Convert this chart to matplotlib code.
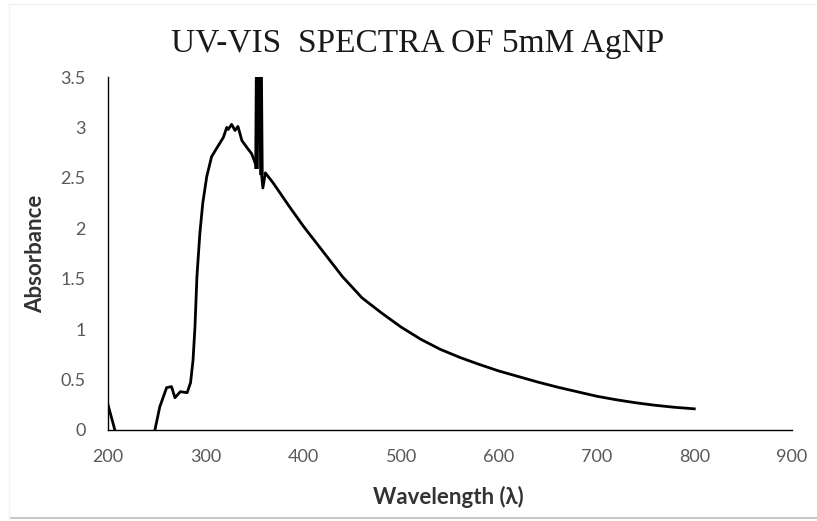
import matplotlib
matplotlib.use("Agg")
import matplotlib.pyplot as plt
from matplotlib.lines import Line2D

wavelength = [200, 207, 215, 230, 242, 248, 253, 260, 265, 268.5, 274, 281, 284.5,
              287, 289, 291, 294, 297, 301, 306, 311, 318, 321.5, 323, 326.5, 330,
              333, 337, 343, 347, 352, 353.6, 355.0, 357, 358.5, 361, 369, 386, 400,
              420, 440, 460, 480, 500, 520, 540, 560, 580, 600, 620, 640, 660, 680,
              700, 720, 740, 760, 780, 800]
absorbance = [0.25, 0.0, -0.3, -0.45, -0.2, 0.0, 0.23, 0.42, 0.43, 0.32, 0.38, 0.37, 0.47,
              0.69, 1.02, 1.52, 1.95, 2.25, 2.51, 2.71, 2.79, 2.90, 3.00, 2.98, 3.03, 2.97,
              3.01, 2.87, 2.79, 2.74, 2.61, 5.0, 5.0, 2.55, 2.40, 2.55, 2.45, 2.21, 2.02,
              1.77, 1.52, 1.31, 1.16, 1.02, 0.90, 0.80, 0.72, 0.65, 0.585, 0.53, 0.475,
              0.425, 0.38, 0.335, 0.30, 0.27, 0.245, 0.225, 0.21]

x_ticks = [200, 300, 400, 500, 600, 700, 800, 900]
y_ticks = [0, 0.5, 1, 1.5, 2, 2.5, 3, 3.5]
y_tick_labels = ["0", "0.5", "1", "1.5", "2", "2.5", "3", "3.5"]

title = "UV-VIS  SPECTRA OF 5mM AgNP"
x_label = "Wavelength (λ)"
y_label = "Absorbance"

W, H = 817, 521
fig = plt.figure(figsize=(W / 100, H / 100), dpi=100)
ax = fig.add_axes([108 / W, 1 - 430 / H, (792 - 108) / W, (430 - 77) / H])

ax.plot(wavelength, absorbance, color="black", lw=2.0, solid_joinstyle="round")
# the detector spike (values above the axis top) drawn a little heavier
spike_idx = [i for i, v in enumerate(absorbance) if v > 3.5]
s0, s1 = spike_idx[0] - 1, spike_idx[-1] + 2
ax.plot(wavelength[s0:s1], absorbance[s0:s1], color="black", lw=3.2,
        solid_joinstyle="miter")
ax.set_xlim(200, 900)
ax.set_ylim(0, 3.5)
ax.set_xticks(x_ticks)
ax.set_yticks(y_ticks)
ax.set_yticklabels(y_tick_labels)
ax.tick_params(length=0, labelsize=13, labelcolor="#595959")
ax.tick_params(axis="x", pad=14)
ax.tick_params(axis="y", pad=16)
for lab in ax.get_xticklabels() + ax.get_yticklabels():
    lab.set_fontfamily("Lato")
ax.spines["top"].set_visible(False)
ax.spines["right"].set_visible(False)
ax.spines["left"].set_color("#000000")
ax.spines["bottom"].set_color("#000000")
ax.spines["left"].set_linewidth(1.0)
ax.spines["bottom"].set_linewidth(1.0)

fig.text(418 / W, 1 - 44 / H, title, ha="center", va="center",
         fontfamily="Liberation Serif", fontsize=24, color="#1a1a1a")
fig.text(448 / W, 1 - 497 / H, x_label, ha="center", va="center",
         fontfamily="Lato", fontweight="bold", fontsize=16, color="#333333")
fig.text(36 / W, 1 - 254 / H, y_label, ha="center", va="center", rotation=90,
         fontfamily="Lato", fontweight="bold", fontsize=16, color="#333333")

# faint chart-area border
fig.add_artist(Line2D([10 / W, 1], [1 - 518 / H, 1 - 518 / H], transform=fig.transFigure,
                      color="#c8c8c8", lw=1.5))
fig.add_artist(Line2D([9 / W, 9 / W], [1 - 518 / H, 1 - 5 / H], transform=fig.transFigure,
                      color="#f2f2f2", lw=1.0))
fig.add_artist(Line2D([9 / W, 1], [1 - 4 / H, 1 - 4 / H], transform=fig.transFigure,
                      color="#f2f2f2", lw=1.0))

fig.savefig("out.png", dpi=100)
